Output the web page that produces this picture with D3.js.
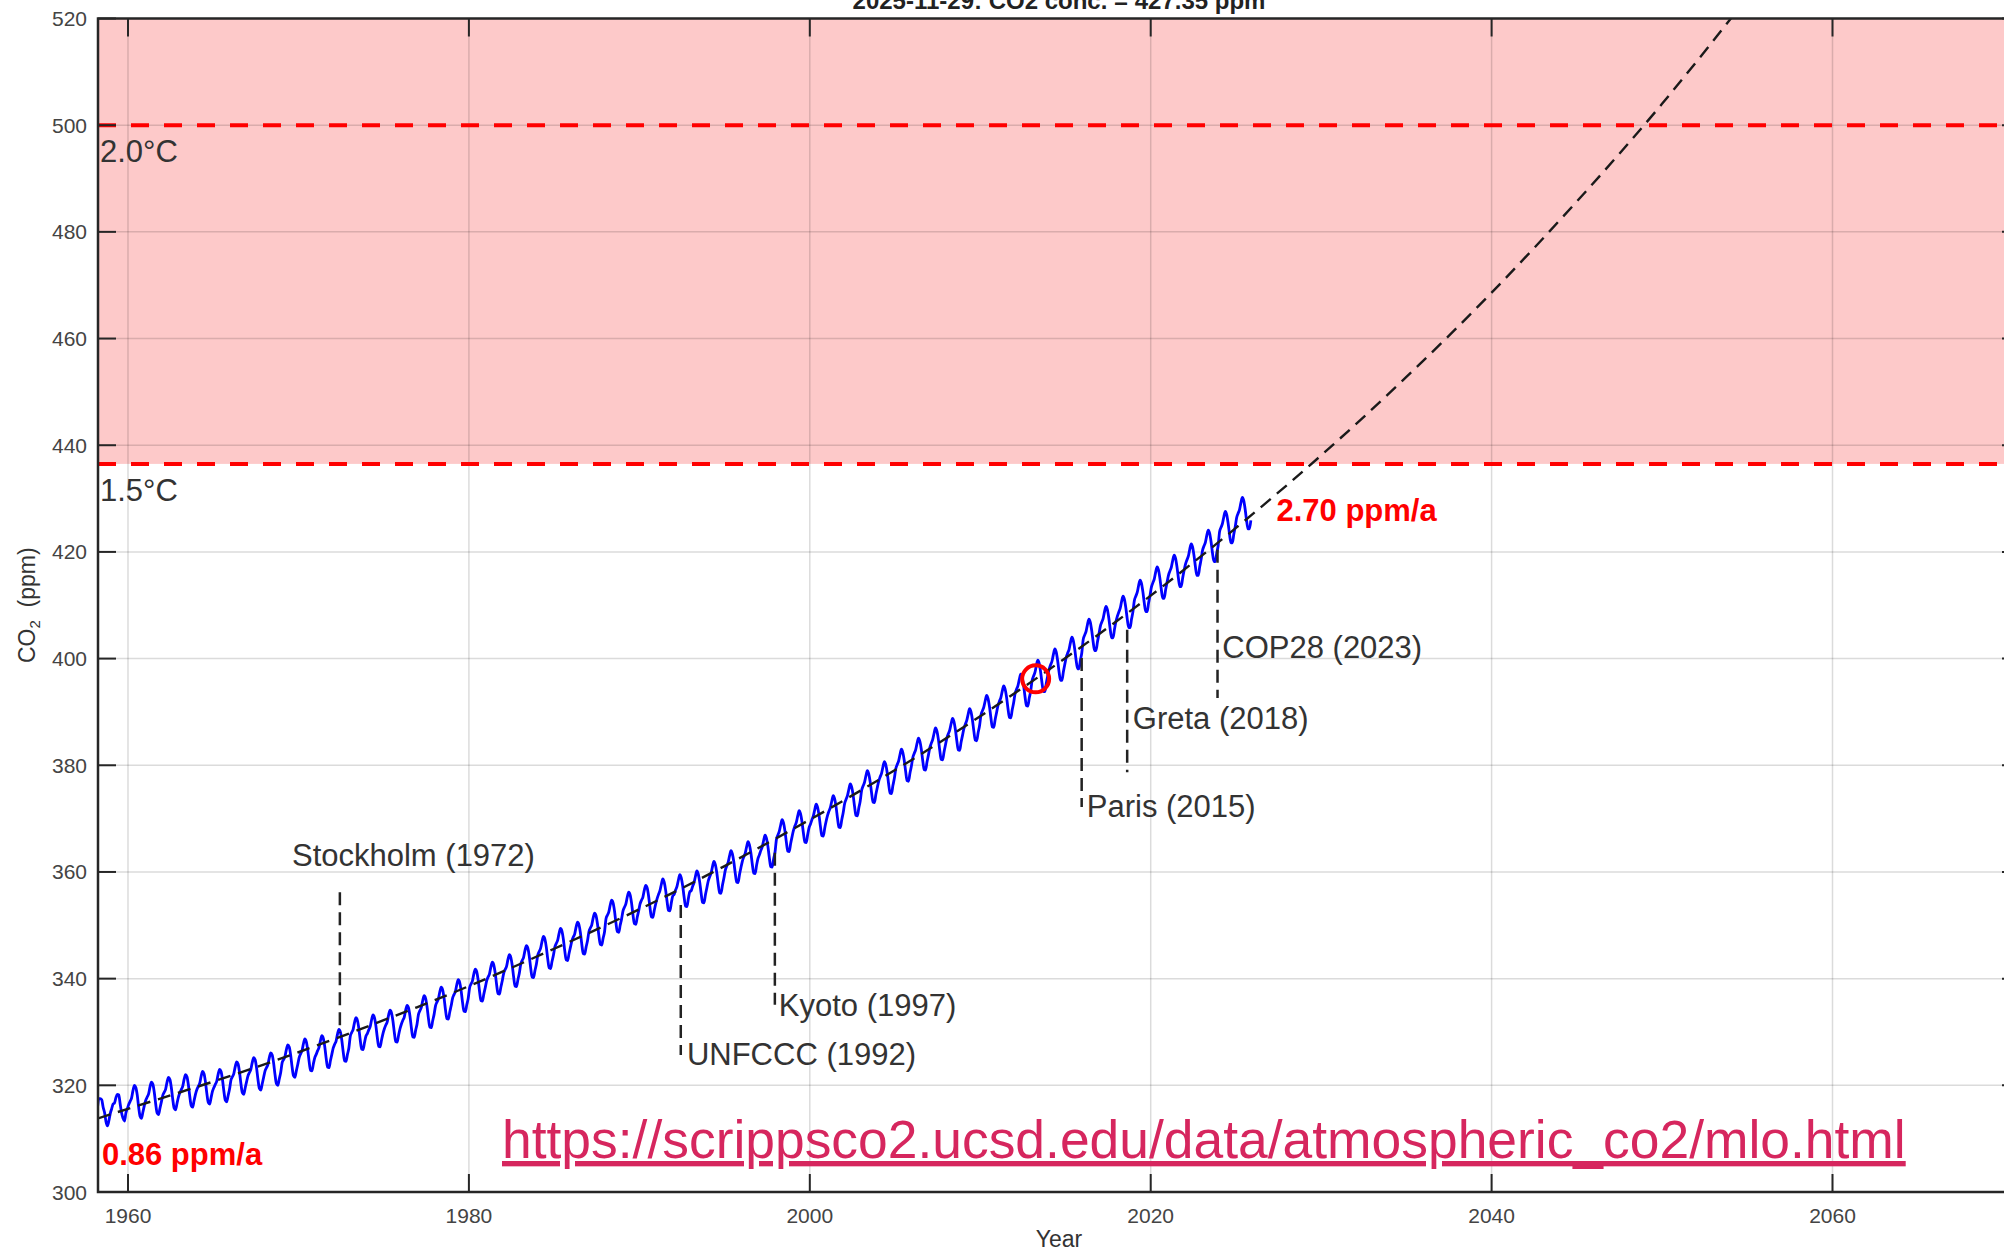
<!DOCTYPE html>
<html>
<head>
<meta charset="utf-8">
<script src="https://cdn.jsdelivr.net/npm/d3@7"></script>
<style>
  html, body { margin: 0; padding: 0; background: #fff; }
  svg { display: block; font-family: "Liberation Sans", Arial, Helvetica, sans-serif; }
</style>
</head>
<body>
<svg id="chart" width="2004" height="1255"></svg>
<script>
// Mauna Loa monthly mean CO2 (ppm); each row: year, then Jan..Dec (null = no record)
const co2Monthly = [
  [1958, null, null, 315.7, 317.5, 317.5, 317.3, 315.9, 314.9, 313.2, 312.4, 313.3, 314.7],
  [1959, 315.6, 316.5, 316.7, 317.7, 318.3, 318.2, 316.5, 314.8, 313.8, 313.3, 314.8, 315.6],
  [1960, 316.4, 317.0, 317.6, 319.0, 320.0, 319.6, 318.2, 315.9, 314.2, 313.8, 315.0, 316.2],
  [1961, 317.2, 317.8, 318.4, 319.7, 320.6, 320.2, 318.7, 316.5, 314.8, 314.5, 315.7, 316.9],
  [1962, 318.1, 318.7, 319.3, 320.6, 321.5, 321.1, 319.6, 317.4, 315.7, 315.4, 316.6, 317.8],
  [1963, 318.6, 319.2, 319.8, 321.1, 322.0, 321.6, 320.1, 317.9, 316.2, 315.9, 317.1, 318.3],
  [1964, 319.2, 319.8, 320.4, 321.7, 322.6, 322.2, 320.7, 318.5, 316.8, 316.5, 317.7, 318.9],
  [1965, 319.6, 320.2, 320.8, 322.1, 323.0, 322.6, 321.1, 318.9, 317.2, 316.9, 318.1, 319.3],
  [1966, 321.0, 321.6, 322.2, 323.5, 324.4, 324.0, 322.5, 320.3, 318.6, 318.3, 319.5, 320.7],
  [1967, 321.8, 322.4, 323.0, 324.3, 325.2, 324.8, 323.3, 321.1, 319.4, 319.1, 320.3, 321.5],
  [1968, 322.7, 323.3, 323.9, 325.2, 326.1, 325.7, 324.2, 322.0, 320.3, 320.0, 321.2, 322.4],
  [1969, 324.2, 324.8, 325.4, 326.7, 327.6, 327.2, 325.7, 323.5, 321.8, 321.5, 322.7, 323.9],
  [1970, 325.2, 325.9, 326.5, 327.8, 328.7, 328.2, 326.7, 324.5, 322.8, 322.7, 324.0, 325.2],
  [1971, 325.8, 326.5, 327.1, 328.4, 329.3, 328.8, 327.3, 325.1, 323.4, 323.3, 324.6, 325.8],
  [1972, 327.0, 327.7, 328.3, 329.6, 330.5, 330.0, 328.5, 326.3, 324.6, 324.5, 325.8, 327.0],
  [1973, 329.2, 329.9, 330.5, 331.8, 332.7, 332.2, 330.7, 328.5, 326.8, 326.7, 328.0, 329.2],
  [1974, 329.7, 330.4, 331.0, 332.3, 333.2, 332.7, 331.2, 329.0, 327.3, 327.2, 328.5, 329.7],
  [1975, 330.6, 331.3, 331.9, 333.2, 334.1, 333.6, 332.1, 329.9, 328.2, 328.1, 329.4, 330.6],
  [1976, 331.5, 332.2, 332.8, 334.1, 335.0, 334.5, 333.0, 330.8, 329.1, 329.0, 330.3, 331.5],
  [1977, 333.3, 334.0, 334.6, 335.9, 336.8, 336.3, 334.8, 332.6, 330.9, 330.8, 332.1, 333.3],
  [1978, 334.9, 335.6, 336.2, 337.5, 338.4, 337.9, 336.4, 334.2, 332.5, 332.4, 333.7, 334.9],
  [1979, 336.3, 337.0, 337.6, 338.9, 339.8, 339.3, 337.8, 335.6, 333.9, 333.8, 335.1, 336.3],
  [1980, 338.3, 339.0, 339.6, 340.9, 341.8, 341.3, 339.8, 337.6, 335.9, 335.8, 337.1, 338.3],
  [1981, 339.6, 340.3, 340.9, 342.2, 343.1, 342.6, 341.1, 338.9, 337.2, 337.1, 338.4, 339.6],
  [1982, 341.0, 341.7, 342.3, 343.6, 344.5, 344.0, 342.5, 340.3, 338.6, 338.5, 339.8, 341.0],
  [1983, 342.7, 343.4, 344.0, 345.3, 346.2, 345.7, 344.2, 342.0, 340.3, 340.2, 341.5, 342.7],
  [1984, 344.4, 345.1, 345.7, 347.0, 347.9, 347.4, 345.9, 343.7, 342.0, 341.9, 343.2, 344.4],
  [1985, 345.9, 346.6, 347.2, 348.5, 349.4, 348.9, 347.4, 345.2, 343.5, 343.4, 344.7, 345.9],
  [1986, 347.1, 347.8, 348.4, 349.7, 350.6, 350.1, 348.6, 346.4, 344.7, 344.6, 345.9, 347.1],
  [1987, 348.8, 349.5, 350.1, 351.4, 352.3, 351.8, 350.3, 348.1, 346.4, 346.3, 347.6, 348.8],
  [1988, 351.2, 351.9, 352.5, 353.8, 354.7, 354.2, 352.7, 350.5, 348.8, 348.7, 350.0, 351.2],
  [1989, 352.7, 353.4, 354.0, 355.3, 356.2, 355.7, 354.2, 352.0, 350.3, 350.2, 351.5, 352.7],
  [1990, 354.0, 354.7, 355.3, 356.6, 357.5, 357.0, 355.5, 353.3, 351.6, 351.5, 352.8, 354.0],
  [1991, 355.0, 355.8, 356.5, 357.7, 358.7, 358.1, 356.6, 354.5, 352.8, 352.7, 354.2, 355.5],
  [1992, 355.8, 356.6, 357.3, 358.5, 359.5, 358.9, 357.4, 355.3, 353.6, 353.5, 355.0, 356.3],
  [1993, 356.5, 357.3, 358.0, 359.2, 360.2, 359.6, 358.1, 356.0, 354.3, 354.2, 355.7, 357.0],
  [1994, 358.3, 359.1, 359.8, 361.0, 362.0, 361.4, 359.9, 357.8, 356.1, 356.0, 357.5, 358.8],
  [1995, 360.3, 361.1, 361.8, 363.0, 364.0, 363.4, 361.9, 359.8, 358.1, 358.0, 359.5, 360.8],
  [1996, 362.0, 362.8, 363.5, 364.7, 365.7, 365.1, 363.6, 361.5, 359.8, 359.7, 361.2, 362.5],
  [1997, 363.2, 364.0, 364.7, 365.9, 366.9, 366.3, 364.8, 362.7, 361.0, 360.9, 362.4, 363.7],
  [1998, 366.1, 366.9, 367.6, 368.8, 369.8, 369.2, 367.7, 365.6, 363.9, 363.8, 365.3, 366.6],
  [1999, 367.8, 368.6, 369.3, 370.5, 371.5, 370.9, 369.4, 367.3, 365.6, 365.5, 367.0, 368.3],
  [2000, 369.0, 369.8, 370.5, 371.7, 372.7, 372.1, 370.6, 368.5, 366.8, 366.7, 368.2, 369.5],
  [2001, 370.6, 371.4, 372.1, 373.3, 374.3, 373.7, 372.2, 370.1, 368.4, 368.3, 369.8, 371.1],
  [2002, 372.8, 373.6, 374.3, 375.5, 376.5, 375.9, 374.4, 372.3, 370.6, 370.5, 372.0, 373.3],
  [2003, 375.3, 376.1, 376.8, 378.0, 379.0, 378.4, 376.9, 374.8, 373.1, 373.0, 374.5, 375.8],
  [2004, 377.0, 377.8, 378.5, 379.7, 380.7, 380.1, 378.6, 376.5, 374.8, 374.7, 376.2, 377.5],
  [2005, 379.3, 380.1, 380.8, 382.0, 383.0, 382.4, 380.9, 378.8, 377.1, 377.0, 378.5, 379.8],
  [2006, 381.4, 382.2, 382.9, 384.1, 385.1, 384.5, 383.0, 380.9, 379.2, 379.1, 380.6, 381.9],
  [2007, 383.3, 384.1, 384.8, 386.0, 387.0, 386.4, 384.9, 382.8, 381.1, 381.0, 382.5, 383.8],
  [2008, 385.1, 385.9, 386.6, 387.8, 388.8, 388.2, 386.7, 384.6, 382.9, 382.8, 384.3, 385.6],
  [2009, 386.9, 387.7, 388.4, 389.6, 390.6, 390.0, 388.5, 386.4, 384.7, 384.6, 386.1, 387.4],
  [2010, 389.4, 390.2, 390.9, 392.1, 393.1, 392.5, 391.0, 388.9, 387.2, 387.1, 388.6, 389.9],
  [2011, 391.2, 392.0, 392.7, 393.9, 394.9, 394.3, 392.8, 390.7, 389.0, 388.9, 390.4, 391.7],
  [2012, 393.4, 394.2, 394.9, 396.1, 397.1, 396.5, 395.0, 392.9, 391.2, 391.1, 392.6, 393.9],
  [2013, 395.9, 396.7, 397.4, 398.7, 399.7, 399.1, 397.5, 395.4, 393.8, 393.8, 395.4, 396.8],
  [2014, 398.0, 398.8, 399.5, 400.8, 401.8, 401.2, 399.6, 397.5, 395.9, 395.9, 397.5, 398.9],
  [2015, 400.2, 401.0, 401.7, 403.0, 404.0, 403.4, 401.8, 399.7, 398.1, 398.1, 399.7, 401.1],
  [2016, 403.6, 404.4, 405.1, 406.4, 407.4, 406.8, 405.2, 403.1, 401.5, 401.5, 403.1, 404.5],
  [2017, 406.0, 406.8, 407.5, 408.8, 409.8, 409.2, 407.6, 405.5, 403.9, 403.9, 405.5, 406.9],
  [2018, 407.9, 408.7, 409.4, 410.7, 411.7, 411.1, 409.5, 407.4, 405.8, 405.8, 407.4, 408.8],
  [2019, 410.9, 411.7, 412.4, 413.7, 414.7, 414.1, 412.5, 410.4, 408.8, 408.8, 410.4, 411.8],
  [2020, 413.4, 414.2, 414.9, 416.2, 417.2, 416.6, 415.0, 412.9, 411.3, 411.3, 412.9, 414.3],
  [2021, 415.6, 416.4, 417.1, 418.4, 419.4, 418.8, 417.2, 415.1, 413.5, 413.5, 415.1, 416.5],
  [2022, 417.7, 418.5, 419.2, 420.5, 421.5, 420.9, 419.3, 417.2, 415.6, 415.6, 417.2, 418.6],
  [2023, 420.3, 421.1, 421.8, 423.1, 424.1, 423.5, 421.9, 419.8, 418.2, 418.2, 419.8, 421.2],
  [2024, 423.8, 424.6, 425.3, 426.6, 427.6, 427.0, 425.4, 423.3, 421.7, 421.7, 423.3, 424.7],
  [2025, 426.4, 427.2, 427.9, 429.2, 430.2, 429.6, 428.0, 425.9, 424.3, 424.3, 425.9, null]
];

// Fitted growth trend and its extrapolation (ppm), sampled every five years
const trendYears  = [1958.24, 1960, 1965, 1970, 1975, 1980, 1985, 1990, 1995, 2000, 2005, 2010, 2015, 2020, 2025, 2030, 2035, 2040, 2045, 2050, 2055];
const trendValues = [313.8, 315.6, 320.7, 326.2, 332.2, 338.6, 345.6, 353.0, 361.1, 369.8, 379.1, 389.2, 400.1, 411.8, 424.5, 438.1, 452.8, 468.6, 485.7, 504.0, 523.9];

// Warming thresholds
const thresholdLabels = ["1.5°C", "2.0°C"];
const thresholdPpm = [436.5, 500];

// Milestone events: date, dashed marker extent and label anchor (baseline)
const eventNames = ["Stockholm (1972)", "UNFCCC (1992)", "Kyoto (1997)", "Paris (2015)", "Greta (2018)", "COP28 (2023)"];
const eventDates = [1972.43, 1992.43, 1997.95, 2015.95, 2018.62, 2023.92];
const eventTop = [356.2, 353.8, 363.6, 400.1, 405.4, 420.4];
const eventBottom = [329.8, 325.7, 335.1, 372.2, 378.7, 392.6];
const eventLabelYear = [1969.62, 1992.79, 1998.18, 2016.25, 2018.95, 2024.2];
const eventLabelPpm = [361.1, 323.8, 333.0, 370.3, 386.8, 400.1];

// Growth-rate annotations at the start and end of the record
const rateLabels = ["0.86 ppm/a", "2.70 ppm/a"];
const rateYears = [1958.47, 2027.38];
const ratePpm = [305.1, 425.8];

// Highlighted point on the record
const markerYear = 2013.25;
const markerPpm = 396.2;

// Axis ticks
const xTicks = [1960, 1980, 2000, 2020, 2040, 2060];
const yTicks = [300, 320, 340, 360, 380, 400, 420, 440, 460, 480, 500, 520];

const titleText = "2025-11-29: CO2 conc. = 427.35 ppm";
const sourceUrl = "https://scrippsco2.ucsd.edu/data/atmospheric_co2/mlo.html";

// ---------------------------------------------------------------------------
(function draw() {
  const svg = d3.select("#chart");
  const pL = 98, pR = 2020, pT = 18.5, pB = 1192;

  const x = d3.scaleLinear().domain([1958.24, 2071]).range([pL, pR]);
  const y = d3.scaleLinear().domain([300, 520]).range([pB, pT]);

  const series = [];
  co2Monthly.forEach(row => {
    const yr = row[0];
    for (let m = 0; m < 12; m++) {
      const v = row[m + 1];
      if (v !== null) series.push({ t: yr + (m + 0.5) / 12, v });
    }
  });

  svg.append("defs").append("clipPath").attr("id", "plotClip")
    .append("rect").attr("x", pL).attr("y", pT).attr("width", pR - pL).attr("height", pB - pT);

  const plot = svg.append("g").attr("clip-path", "url(#plotClip)");

  // shaded zone above the 1.5°C threshold
  plot.append("rect")
    .attr("x", pL).attr("y", pT)
    .attr("width", pR - pL)
    .attr("height", y(thresholdPpm[0]) - pT)
    .attr("fill", "#fdc9c9");

  // grid
  plot.append("g").selectAll("line").data(xTicks).join("line")
    .attr("x1", d => x(d)).attr("x2", d => x(d))
    .attr("y1", pT).attr("y2", pB)
    .attr("stroke", "#000").attr("stroke-opacity", 0.14).attr("stroke-width", 1.5);
  plot.append("g").selectAll("line").data(yTicks).join("line")
    .attr("x1", pL).attr("x2", pR)
    .attr("y1", d => y(d)).attr("y2", d => y(d))
    .attr("stroke", "#000").attr("stroke-opacity", 0.14).attr("stroke-width", 1.5);

  // threshold lines
  plot.append("g").selectAll("line").data(thresholdPpm).join("line")
    .attr("x1", pL).attr("x2", pR)
    .attr("y1", d => y(d)).attr("y2", d => y(d))
    .attr("stroke", "#ff0000").attr("stroke-width", 4)
    .attr("stroke-dasharray", "18,15");

  // monthly record
  plot.append("path")
    .datum(series)
    .attr("fill", "none")
    .attr("stroke", "#0000ff")
    .attr("stroke-width", 2.8)
    .attr("stroke-linejoin", "round")
    .attr("d", d3.line().x(d => x(d.t)).y(d => y(d.v)).curve(d3.curveMonotoneX));

  // trend + extrapolation
  plot.append("path")
    .datum(trendYears.map((t, i) => [t, trendValues[i]]))
    .attr("fill", "none")
    .attr("stroke", "#1a1a1a")
    .attr("stroke-width", 2.4)
    .attr("stroke-dasharray", "13,8")
    .attr("d", d3.line().x(d => x(d[0])).y(d => y(d[1])).curve(d3.curveNatural));

  // event markers
  const ev = plot.append("g");
  eventNames.forEach((name, i) => {
    ev.append("line")
      .attr("x1", x(eventDates[i])).attr("x2", x(eventDates[i]))
      .attr("y1", y(eventTop[i])).attr("y2", y(eventBottom[i]))
      .attr("stroke", "#222").attr("stroke-width", 2.5)
      .attr("stroke-dasharray", "13,7");
    ev.append("text")
      .attr("x", x(eventLabelYear[i])).attr("y", y(eventLabelPpm[i]))
      .attr("font-size", 31).attr("fill", "#333")
      .text(name);
  });

  // highlighted point
  plot.append("circle")
    .attr("cx", x(markerYear)).attr("cy", y(markerPpm)).attr("r", 13.5)
    .attr("fill", "none").attr("stroke", "#ff0000").attr("stroke-width", 4);

  // threshold labels
  plot.append("g").selectAll("text").data(thresholdLabels).join("text")
    .attr("x", pL + 2)
    .attr("y", (d, i) => y(thresholdPpm[i]) + 37)
    .attr("font-size", 31).attr("fill", "#333")
    .text(d => d);

  // growth-rate labels
  plot.append("g").selectAll("text").data(rateLabels).join("text")
    .attr("x", (d, i) => x(rateYears[i]))
    .attr("y", (d, i) => y(ratePpm[i]))
    .attr("font-size", 31).attr("font-weight", "bold").attr("fill", "#ff0000")
    .text(d => d);

  // source link
  svg.append("text")
    .attr("x", 502).attr("y", 1158)
    .attr("font-size", 53.4).attr("fill", "#d6265e")
    .attr("text-decoration", "underline")
    .text(sourceUrl);

  // axes box and inward ticks
  const axes = svg.append("g").attr("stroke", "#262626").attr("stroke-width", 2);
  axes.append("rect")
    .attr("x", pL).attr("y", pT).attr("width", pR - pL).attr("height", pB - pT)
    .attr("fill", "none").attr("stroke-width", 2.5);
  const tickLen = 18;
  xTicks.forEach(t => {
    axes.append("line").attr("x1", x(t)).attr("x2", x(t)).attr("y1", pB).attr("y2", pB - tickLen);
    axes.append("line").attr("x1", x(t)).attr("x2", x(t)).attr("y1", pT).attr("y2", pT + tickLen);
  });
  yTicks.forEach(v => {
    axes.append("line").attr("x1", pL).attr("x2", pL + tickLen).attr("y1", y(v)).attr("y2", y(v));
    axes.append("line").attr("x1", pR).attr("x2", pR - tickLen).attr("y1", y(v)).attr("y2", y(v));
  });

  // tick labels
  svg.append("g").selectAll("text").data(xTicks).join("text")
    .attr("x", d => x(d)).attr("y", pB + 31)
    .attr("text-anchor", "middle").attr("font-size", 21).attr("fill", "#444")
    .text(d => d);
  svg.append("g").selectAll("text").data(yTicks).join("text")
    .attr("x", pL - 11).attr("y", d => y(d) + 7.5)
    .attr("text-anchor", "end").attr("font-size", 21).attr("fill", "#444")
    .text(d => d);

  // axis titles
  svg.append("text")
    .attr("x", (pL + pR) / 2).attr("y", 1247)
    .attr("text-anchor", "middle").attr("font-size", 23).attr("fill", "#333")
    .text("Year");

  const yl = svg.append("text")
    .attr("transform", `translate(35, ${(pT + pB) / 2}) rotate(-90)`)
    .attr("text-anchor", "middle").attr("font-size", 23).attr("fill", "#333");
  yl.append("tspan").text("CO");
  yl.append("tspan").attr("font-size", 15).attr("dy", 5).text("2");
  yl.append("tspan").attr("dy", -5).text("\u00a0 (ppm)");

  // title (runs off the top edge of the figure)
  svg.append("text")
    .attr("x", (pL + pR) / 2).attr("y", 9)
    .attr("text-anchor", "middle").attr("font-size", 24).attr("font-weight", "bold").attr("fill", "#222")
    .text(titleText);
})();
</script>
</body>
</html>
